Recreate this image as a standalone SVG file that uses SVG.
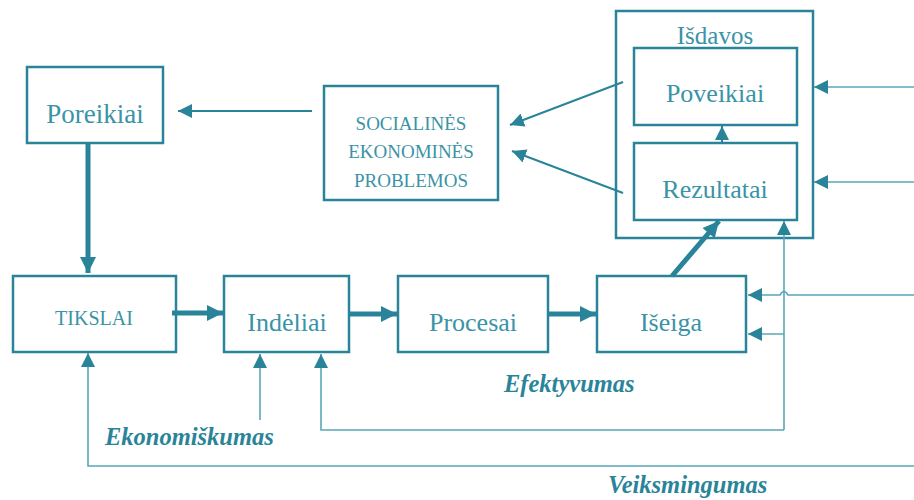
<svg xmlns="http://www.w3.org/2000/svg" width="914" height="500" viewBox="0 0 914 500">
<style>
.box{fill:none;stroke:#2a8499;stroke-width:2.5}
.t{fill:#3a93a6;text-anchor:middle;font-family:'Liberation Serif',serif}
.it{fill:#2a8499;font-style:italic;font-weight:bold;font-size:24.5px;font-family:'Liberation Serif',serif}
.thin{fill:none;stroke:#5aa7b9;stroke-width:1.6}
.mid{fill:none;stroke:#2a8499;stroke-width:2}
.thick{fill:none;stroke:#2a8499;stroke-width:5}
</style>
<defs>
<marker id="ah" viewBox="0 0 10 10" refX="10" refY="5" markerWidth="14" markerHeight="14" markerUnits="userSpaceOnUse" orient="auto"><path d="M0,0 L10,5 L0,10 z" fill="#2a8499"/></marker>
<marker id="ahb" viewBox="0 0 10 10" refX="10" refY="5" markerWidth="17" markerHeight="16" markerUnits="userSpaceOnUse" orient="auto"><path d="M0,0 L10,5 L0,10 z" fill="#2a8499"/></marker>
</defs>
<g id="poreikiai"><rect class="box" x="27" y="67" width="136" height="76"/><text class="t" x="95" y="123" font-size="27">Poreikiai</text></g>
<g id="problemos"><rect class="box" x="324" y="86" width="174" height="114"/>
<text class="t" x="411" y="130" font-size="19">SOCIALINĖS</text><text class="t" x="411" y="158" font-size="19">EKONOMINĖS</text><text class="t" x="411" y="187" font-size="19">PROBLEMOS</text></g>
<g id="isdavos"><rect class="box" x="616" y="11" width="197" height="227"/><text class="t" x="715" y="44" font-size="25">Išdavos</text></g>
<g id="poveikiai"><rect class="box" x="634" y="48" width="163" height="77"/><text class="t" x="715" y="102" font-size="26">Poveikiai</text></g>
<g id="rezultatai"><rect class="box" x="634" y="143" width="163" height="77"/><text class="t" x="715" y="198" font-size="26">Rezultatai</text></g>
<g id="tikslai"><rect class="box" x="13" y="276" width="163" height="76"/><text class="t" x="94" y="325" font-size="20">TIKSLAI</text></g>
<g id="indeliai"><rect class="box" x="224" y="276" width="125" height="76"/><text class="t" x="287" y="331" font-size="26">Indėliai</text></g>
<g id="procesai"><rect class="box" x="398" y="276" width="150" height="76"/><text class="t" x="473" y="331" font-size="26">Procesai</text></g>
<g id="iseiga"><rect class="box" x="597" y="276" width="149" height="76"/><text class="t" x="671" y="331" font-size="26">Išeiga</text></g>
<g id="labels">
<text class="it" x="105" y="445">Ekonomiškumas</text>
<text class="it" x="504" y="392">Efektyvumas</text>
<text class="it" x="608" y="493">Veiksmingumas</text>
</g>
<g id="connectors">
<path class="mid" d="M312,111 L178,111" marker-end="url(#ah)"/>
<path class="thick" d="M88,143 L88,273" marker-end="url(#ahb)"/>
<path class="thick" d="M172,313 L223,313" marker-end="url(#ahb)"/>
<path class="thick" d="M349,314 L397,314" marker-end="url(#ahb)"/>
<path class="thick" d="M548,314 L596,314" marker-end="url(#ahb)"/>
<path class="thick" d="M672,276 L719,221" marker-end="url(#ahb)"/>
<path class="mid" d="M722,143 L722,126" marker-end="url(#ah)"/>
<path class="mid" d="M623,82 L510,125" marker-end="url(#ah)"/>
<path class="mid" d="M623,193 L512,151" marker-end="url(#ah)"/>
<path class="thin" d="M914,87 L814,87" marker-end="url(#ah)"/>
<path class="thin" d="M914,182 L814,182" marker-end="url(#ah)"/>
<path class="thin" d="M914,295 L788,295 Q784,288 780,295 L748,295" marker-end="url(#ah)"/>
<path class="thin" d="M784,334 L748,334" marker-end="url(#ah)"/>
<path class="thin" d="M784,430 L784,221" marker-end="url(#ah)"/>
<path class="thin" d="M784,430 L321,430 L321,354" marker-end="url(#ah)"/>
<path class="thin" d="M260,420 L260,354" marker-end="url(#ah)"/>
<path class="thin" d="M914,466 L88,466 L88,353" marker-end="url(#ah)"/>
</g>
</svg>
